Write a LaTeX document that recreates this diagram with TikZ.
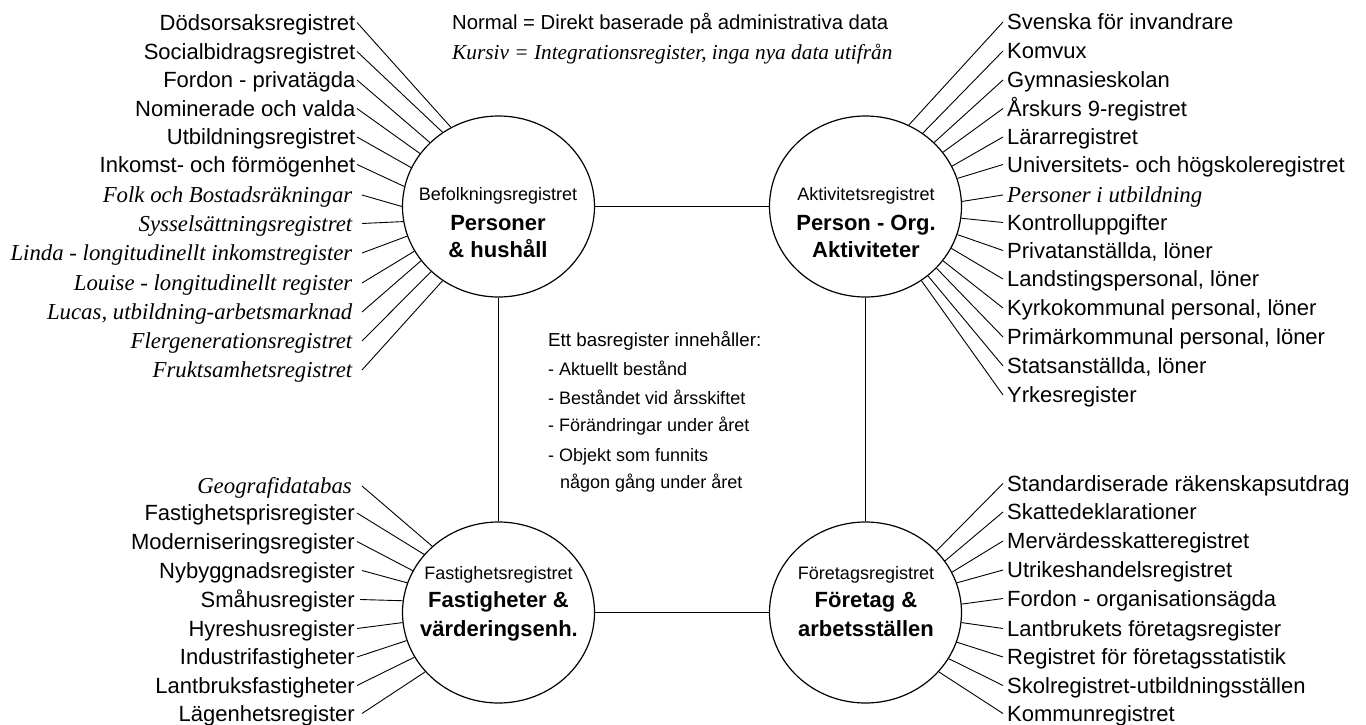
\documentclass[tikz,border=0pt]{standalone}
\usepackage{fontspec}
\setmainfont{Liberation Sans}
\newfontfamily\tmsfam{Liberation Serif}
\usetikzlibrary{shapes.geometric}

\begin{document}
\begin{tikzpicture}[x=1pt,y=-1pt,
  reg/.style={draw, line width=1.2pt, ellipse, minimum width=192pt, minimum height=181pt, inner sep=0pt},
  link/.style={line width=1pt},
  spoke/.style={line width=0.9pt},
  nrm/.style={font=\fontsize{22}{26}\selectfont, inner ysep=0pt, text height=15.75pt, text depth=0pt},
  itl/.style={font=\tmsfam\itshape\fontsize{22.8}{26}\selectfont, inner ysep=0pt, text height=15.1pt, text depth=0pt},
  sub/.style={font=\fontsize{18}{21}\selectfont, inner sep=0pt, text height=12.9pt, text depth=0pt},
  big/.style={font=\bfseries\fontsize{22}{26}\selectfont, inner sep=0pt, text height=15.75pt, text depth=0pt},
  hdr/.style={font=\fontsize{20.3}{24}\selectfont, inner sep=0pt, text height=14.6pt, text depth=0pt, anchor=west},
  hdri/.style={font=\tmsfam\itshape\fontsize{21.3}{24}\selectfont, inner sep=0pt, text height=14.1pt, text depth=0pt, anchor=west},
  mid/.style={font=\fontsize{18}{21}\selectfont, inner sep=0pt, text height=12.9pt, text depth=0pt, anchor=west},
  midh/.style={mid, font=\fontsize{18.8}{22}\selectfont, text height=13.4pt},
]
\useasboundingbox (0,0) rectangle (1366,725);

% the four base registers
\node[reg] (bef) at (498.5,206.5) {};
\node[reg] (akt) at (865.5,206.5) {};
\node[reg] (fas) at (498.5,612.5) {};
\node[reg] (for) at (865.5,612.5) {};

\draw[link] (bef) -- (akt);
\draw[link] (bef) -- (fas);
\draw[link] (akt) -- (for);
\draw[link] (fas) -- (for);

% register titles
\node[sub] (befT) at (498,194) {Befolkningsregistret};
\node[big] (befA) at (498,222.5) {Personer};
\node[big] (befB) at (498,250) {\& hushåll};

\node[sub] (aktT) at (866,194) {Aktivitetsregistret};
\node[big] (aktA) at (866,222.5) {Person - Org.};
\node[big] (aktB) at (866,250) {Aktiviteter};

\node[sub] (fasT) at (498.5,573.3) {Fastighetsregistret};
\node[big] (fasA) at (498.5,600) {Fastigheter \&};
\node[big] (fasB) at (499,628.3) {värderingsenh.};

\node[sub] (forT) at (866,573.3) {Företagsregistret};
\node[big] (forA) at (866,600) {Företag \&};
\node[big] (forB) at (866,628.3) {arbetsställen};

% legend
\node[hdr] (legN) at (452,22) {Normal = Direkt baserade på administrativa data};
\node[hdri] (legK) at (452,52.5) {Kursiv = Integrationsregister, inga nya data utifrån};

% contents of a base register
\node[midh] (bas0) at (548,340) {Ett basregister innehåller:};
\node[mid] (bas1) at (548,369) {- Aktuellt bestånd};
\node[mid] (bas2) at (548,398) {- Beståndet vid årsskiftet};
\node[mid] (bas3) at (548,425.5) {- Förändringar under året};
\node[mid] (bas4) at (548,455.5) {- Objekt som funnits};
\node[mid] (bas5) at (560,482.5) {någon gång under året};

% registers around Befolkningsregistret
\foreach \n/\t/\xr/\g/\y/\a/\s in {
  1/Dödsorsaksregistret/355.5/1.5/22.5/121.4/nrm,
  2/Socialbidragsregistret/355.5/1.5/51.5/127.5/nrm,
  3/Fordon - privatägda/355.5/1.5/80/137.2/nrm,
  4/Nominerade och valda/355.5/1.5/108.5/146.7/nrm,
  5/Utbildningsregistret/355.5/1.5/137/156/nrm,
  6/Inkomst- och förmögenhet/355.5/1.5/164.5/168.7/nrm,
  7/Folk och Bostadsräkningar/352.5/9.5/195/180.3/itl,
  8/Sysselsättningsregistret/352.5/9.5/223.5/189.9/itl,
  9/Linda - longitudinellt inkomstregister/352.5/9.5/253/198.4/itl,
  10/Louise - longitudinellt register/352.5/9.5/283/208/itl,
  11/{Lucas, utbildning-arbetsmarknad}/352.5/9.5/312/215.3/itl,
  12/Flergenerationsregistret/352.5/9.5/341/224.2/itl,
  13/Fruktsamhetsregistret/352.5/9.5/370/233.6/itl}
{
  \node[\s, anchor=east, inner xsep=\g pt] (pl\n) at ({\xr+\g},\y) {\t};
  \draw[spoke] (pl\n.east) -- (bef.\a);
}

% registers around Aktivitetsregistret
\foreach \n/\t/\y/\a/\s in {
  1/Svenska för invandrare/22/62.7/nrm,
  2/Komvux/51/52.4/nrm,
  3/Gymnasieskolan/80/43.3/nrm,
  4/Årskurs 9-registret/108.5/35/nrm,
  5/Lärarregistret/137/25.1/nrm,
  6/Universitets- och högskoleregistret/164.5/17.3/nrm,
  7/Personer i utbildning/195/3.3/itl,
  8/Kontrolluppgifter/222.5/-7.5/nrm,
  9/{Privatanställda, löner}/250.5/-17.9/nrm,
  10/{Landstingspersonal, löner}/279/-26.7/nrm,
  11/{Kyrkokommunal personal, löner}/308/-35.1/nrm,
  12/{Primärkommunal personal, löner}/337/-41.6/nrm,
  13/{Statsanställda, löner}/366/-48.4/nrm,
  14/Yrkesregister/395/-53.2/nrm}
{
  \node[\s, anchor=west, inner xsep=4pt] (pr\n) at (1003,\y) {\t};
  \draw[spoke] (pr\n.west) -- (akt.\a);
}

% registers around Fastighetsregistret
\foreach \n/\t/\xr/\g/\y/\a/\s in {
  1/Geografidatabas/352/10/486/135/itl,
  2/Fastighetsprisregister/355/2/513/142.9/nrm,
  3/Moderniseringsregister/355/2/541.5/154.2/nrm,
  4/Nybyggnadsregister/355/7/570.5/162.4/nrm,
  5/Småhusregister/355/5/599.5/173.1/nrm,
  6/Hyreshusregister/355/2/628.5/186/nrm,
  7/Industrifastigheter/355/2/657/197/nrm,
  8/Lantbruksfastigheter/355/2/685.5/208.3/nrm,
  9/Lägenhetsregister/355/7/713.5/219.2/nrm}
{
  \node[\s, anchor=east, inner xsep=\g pt] (fl\n) at ({\xr+\g},\y) {\t};
  \draw[spoke] (fl\n.east) -- (fas.\a);
}

% registers around Företagsregistret
\foreach \n/\t/\y/\a in {
  1/Standardiserade räkenskapsutdrag/483.5/41.8,
  2/Skattedeklarationer/512/33.8,
  3/Mervärdesskatteregistret/541/25.3,
  4/Utrikeshandelsregistret/570/18.2,
  5/Fordon - organisationsägda/598.5/5.4,
  6/Lantbrukets företagsregister/628.5/-6.5,
  7/Registret för företagsstatistik/657/-18.1,
  8/Skolregistret-utbildningsställen/685.5/-29.9,
  9/Kommunregistret/713.5/-39.8}
{
  \node[nrm, anchor=west, inner xsep=4pt] (fr\n) at (1003,\y) {\t};
  \draw[spoke] (fr\n.west) -- (for.\a);
}
\end{tikzpicture}
\end{document}
